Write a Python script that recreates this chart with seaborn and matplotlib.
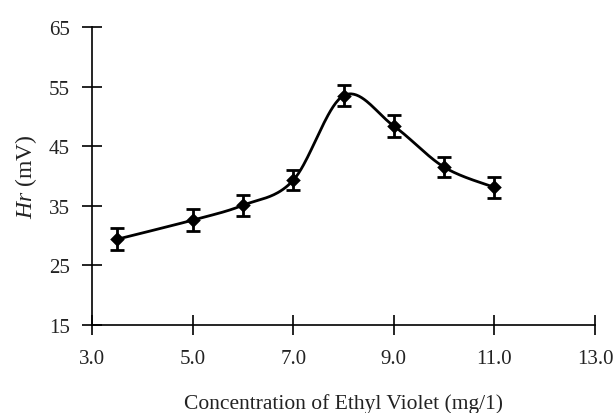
import numpy as np
import pandas as pd
import matplotlib
matplotlib.use("Agg")
import matplotlib.pyplot as plt
import seaborn as sns

conc = [3.5, 5.0, 6.0, 7.0, 8.0, 9.0, 10.0, 11.0]
hr = [29.4, 32.6, 35.1, 39.3, 53.5, 48.4, 41.5, 38.1]
err = [1.8, 1.9, 1.8, 1.7, 1.8, 1.8, 1.7, 1.75]
x_ticks = [3.0, 5.0, 7.0, 9.0, 11.0, 13.0]
y_ticks = [15, 25, 35, 45, 55, 65]

sns.set_theme(style="white")
plt.rcParams['font.family'] = ['Liberation Serif', 'DejaVu Serif']
plt.rcParams['mathtext.fontset'] = 'custom'
plt.rcParams['mathtext.it'] = 'Liberation Serif:italic'
plt.rcParams['mathtext.rm'] = 'Liberation Serif'

df = pd.DataFrame({"conc": conc, "hr": hr, "err": err})

def smooth_curve(x, y, n=40):
    # Catmull-Rom style Bezier smoothing (as in spreadsheet "smoothed line")
    x = np.asarray(x, float); y = np.asarray(y, float)
    px = np.concatenate([[x[0]], x, [x[-1]]])
    py = np.concatenate([[y[0]], y, [y[-1]]])
    xs, ys = [], []
    for i in range(1, len(px)-2):
        p0 = np.array([px[i-1], py[i-1]]); p1 = np.array([px[i], py[i]])
        p2 = np.array([px[i+1], py[i+1]]); p3 = np.array([px[i+2], py[i+2]])
        c1 = p1 + (p2 - p0) / 6
        c2 = p2 - (p3 - p1) / 6
        t = np.linspace(0, 1, n)[:, None]
        b = (1-t)**3*p1 + 3*(1-t)**2*t*c1 + 3*(1-t)*t**2*c2 + t**3*p2
        xs.append(b[:, 0]); ys.append(b[:, 1])
    return np.concatenate(xs), np.concatenate(ys)

fig = plt.figure(figsize=(6.14, 4.14), dpi=100)
ax = fig.add_axes([0.150, 0.2126, 0.819, 0.7194])

sx, sy = smooth_curve(conc, hr)
ax.plot(sx, sy, color='black', lw=2.0, zorder=2)
ax.errorbar(df["conc"], df["hr"], yerr=df["err"], fmt='none', ecolor='black',
            elinewidth=2, capsize=5, capthick=2, zorder=3)
sns.scatterplot(data=df, x="conc", y="hr", marker='D', s=55, color='black',
                edgecolor='black', linewidth=0, ax=ax, zorder=4)

ax.set_xlim(3.0, 13.0)
ax.set_ylim(15, 65)
ax.set_xticks(x_ticks)
ax.set_xticklabels([f"{v:.1f}" for v in x_ticks])
ax.set_yticks(y_ticks)
ax.set_yticklabels([str(v) for v in y_ticks])
for s in ['top', 'right']:
    ax.spines[s].set_visible(False)
for s in ['left', 'bottom']:
    ax.spines[s].set_color('black')
    ax.spines[s].set_linewidth(1.2)
ax.tick_params(axis='both', which='major', direction='inout', length=14, width=1.2,
               color='black', labelsize=15, labelcolor='#222222',
               bottom=True, left=True)
ax.tick_params(axis='y', pad=9)
ax.tick_params(axis='x', pad=10)
ax.set_xlabel("Concentration of Ethyl Violet (mg/1)", fontsize=15.5, color='#222222', labelpad=18)
ax.set_ylabel(r"$Hr$ (mV)", fontsize=17, color='#222222', labelpad=7)
ax.grid(False)

fig.savefig("out.png", dpi=100)
